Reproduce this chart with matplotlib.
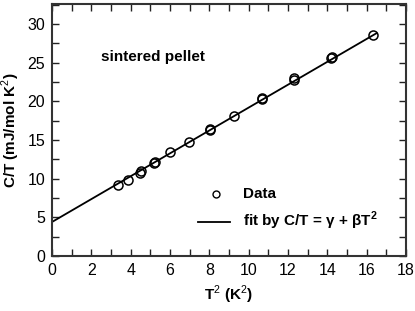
import numpy as np
import matplotlib
matplotlib.use('Agg')
import matplotlib.pyplot as plt
from matplotlib.ticker import MultipleLocator

plt.rcParams['font.family'] = ['Liberation Sans', 'DejaVu Sans']
plt.rcParams['mathtext.fontset'] = 'custom'
plt.rcParams['mathtext.rm'] = 'Liberation Sans'
plt.rcParams['mathtext.bf'] = 'Liberation Sans:bold'

# data
t2 = [3.34, 3.86, 4.47, 4.50, 5.20, 5.22, 6.00, 6.95, 8.02, 8.04,
      9.24, 10.66, 10.68, 12.30, 12.32, 14.20, 14.22, 16.30]
ct = [9.24, 9.80, 10.75, 10.95, 12.00, 12.20, 13.45, 14.80, 16.25, 16.45,
      18.10, 20.25, 20.45, 22.75, 23.05, 25.55, 25.70, 28.65]

gamma = 4.4
beta = 1.48
fit_x = [0.0, 16.5]

fig = plt.figure(figsize=(4.15, 3.11), dpi=100)
ax = fig.add_axes([52/415, 1 - 256/311, 354/415, 252/311])

fx = np.array(fit_x)
ax.plot(fx, gamma + beta * fx, color='black', lw=1.3, zorder=2)
ax.plot(t2, ct, 'o', mfc='none', mec='black', mew=1.1, ms=6.5, zorder=3)

ax.set_xlim(0, 18)
ax.set_ylim(0, 32.6)
ax.xaxis.set_major_locator(MultipleLocator(2))
ax.xaxis.set_minor_locator(MultipleLocator(1))
ax.yaxis.set_major_locator(MultipleLocator(5))
ax.yaxis.set_minor_locator(MultipleLocator(2.5))
ax.tick_params(which='both', direction='in', top=True, right=True,
               labelsize=11.5, width=1, color='#222222', pad=5)
ax.tick_params(which='major', length=5)
ax.tick_params(which='minor', length=5)
for s in ax.spines.values():
    s.set_linewidth(1.5)
    s.set_color('#333333')

ax.set_xlabel(r'T$^2$ (K$^2$)', fontsize=11, fontweight='bold')
ax.set_ylabel(r'C/T (mJ/mol K$^2$)', fontsize=11, fontweight='bold')

ax.text(2.5, 25.8, 'sintered pellet', fontsize=11, fontweight='bold', va='center')

# legend drawn by hand to match the original placement
ax.plot([8.35], [8.0], 'o', mfc='none', mec='black', mew=1.0, ms=5)
ax.text(9.7, 8.0, 'Data', fontsize=11, fontweight='bold', va='center')
ax.plot([7.4, 9.05], [4.4, 4.4], color='black', lw=1.3)
ax.text(9.7, 4.6, r'fit by C/T = $\mathbf{\gamma}$ + $\mathbf{\beta}$T$^\mathbf{2}$',
        fontsize=11, fontweight='bold', va='center')

plt.savefig('out.png', dpi=100)
